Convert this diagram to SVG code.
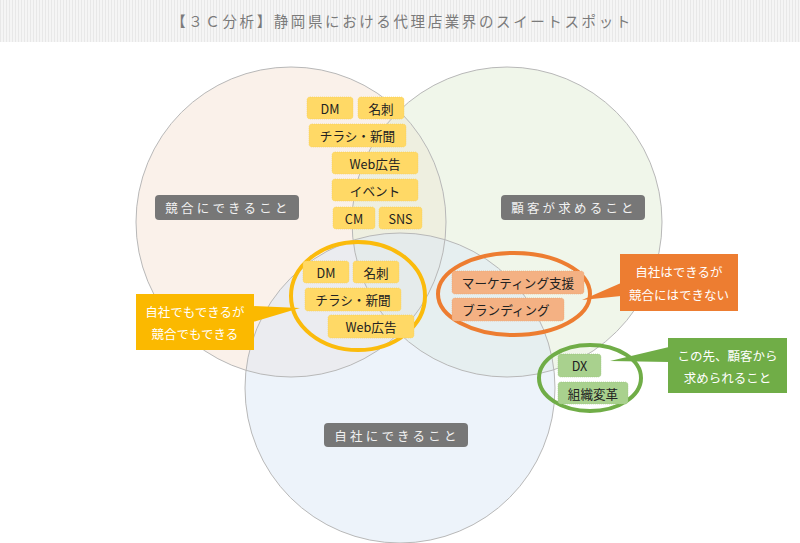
<svg xmlns="http://www.w3.org/2000/svg" width="800" height="543" viewBox="0 0 800 543">
<defs>
<pattern id="stripes" width="3" height="42" patternUnits="userSpaceOnUse">
<rect width="3" height="42" fill="#f5f5f5"/>
<rect width="1" height="42" fill="#e8e8e8"/>
</pattern>
<style>
text{font-family:"Noto Sans CJK JP","Noto Sans",sans-serif;}
.title{font-size:14.5px;fill:#7a7a7a;letter-spacing:2.6px;}
.circ{stroke:none;}
.edge{fill:none;stroke:#b8b8b8;stroke-width:1;}
.lbl rect{fill:#777777;}
.lbl text{font-size:12.5px;fill:#f2f2f2;letter-spacing:3.2px;text-anchor:middle;dominant-baseline:central;}
.y rect{fill:#ffd966;stroke:#f3cc55;stroke-width:0.6;stroke-dasharray:1 1;}
.o rect{fill:#f4b183;stroke:#eaa574;stroke-width:0.6;stroke-dasharray:1 1;}
.g rect{fill:#a9d18e;stroke:#9cc480;stroke-width:0.6;stroke-dasharray:1 1;}
.box text{font-size:12.6px;fill:#222;text-anchor:middle;dominant-baseline:central;}
.call text{font-size:12.5px;fill:#ffffff;text-anchor:middle;dominant-baseline:central;}
</style>
</defs>
<rect width="800" height="543" fill="#ffffff"/>
<rect width="800" height="42" fill="url(#stripes)"/>
<text class="title" x="402" y="27" text-anchor="middle">【３Ｃ分析】静岡県における代理店業界のスイートスポット</text>

<g id="circles">
<circle class="circ" cx="291" cy="222" r="155" fill="#f6e4d6" fill-opacity="0.5"/>
<circle class="circ" cx="507" cy="222" r="155" fill="#e1eed6" fill-opacity="0.5"/>
<circle class="circ" cx="400" cy="388" r="155" fill="#dce7f5" fill-opacity="0.5"/>
<circle class="edge" cx="291" cy="222" r="155"/>
<circle class="edge" cx="507" cy="222" r="155"/>
<circle class="edge" cx="400" cy="388" r="155"/>
</g>

<g id="label-competitor" class="lbl"><rect x="155" y="195" width="144" height="25" rx="4"/><text x="228" y="207.5">競合にできること</text></g>
<g id="label-customer" class="lbl"><rect x="501" y="195" width="144" height="25" rx="4"/><text x="574" y="207.5">顧客が求めること</text></g>
<g id="label-company" class="lbl"><rect x="324" y="423" width="144" height="24" rx="4"/><text x="397" y="435">自社にできること</text></g>

<g id="top-cluster" class="box y">
<g id="t-dm"><rect x="307" y="97" width="46" height="22" rx="3"/><text x="330" y="108">DM</text></g>
<g id="t-meishi"><rect x="358" y="97" width="46" height="22" rx="3"/><text x="381" y="108">名刺</text></g>
<g id="t-chirashi"><rect x="309" y="124" width="97" height="23" rx="3"/><text x="357.5" y="135.5">チラシ・新聞</text></g>
<g id="t-web"><rect x="332" y="152" width="86" height="22" rx="3"/><text x="375" y="163">Web広告</text></g>
<g id="t-event"><rect x="332" y="179" width="86" height="22" rx="3"/><text x="375" y="190">イベント</text></g>
<g id="t-cm"><rect x="333" y="207" width="42" height="22" rx="3"/><text x="354" y="218">CM</text></g>
<g id="t-sns"><rect x="379" y="207" width="43" height="22" rx="3"/><text x="400.5" y="218">SNS</text></g>
</g>

<g id="connectors">
<polygon points="253,306 300,308 253,322" fill="#fbb900"/>
<polygon points="621,283 582,300 621,296" fill="#ed7d31"/>
<polygon points="669,347 610,361 669,362" fill="#70ad47"/>
<ellipse cx="358" cy="296" rx="67" ry="54" fill="none" stroke="#fbbb0c" stroke-width="4"/>
<ellipse cx="514" cy="294" rx="76" ry="41" fill="none" stroke="#ed7d31" stroke-width="4"/>
<ellipse cx="590" cy="378" rx="51" ry="33" fill="none" stroke="#70ad47" stroke-width="4"/>
</g>

<g id="mid-cluster" class="box y">
<g id="m-dm"><rect x="303" y="261" width="46" height="22" rx="3"/><text x="326" y="272">DM</text></g>
<g id="m-meishi"><rect x="353" y="261" width="46" height="22" rx="3"/><text x="376" y="272">名刺</text></g>
<g id="m-chirashi"><rect x="305" y="288" width="96" height="23" rx="3"/><text x="353" y="299.5">チラシ・新聞</text></g>
<g id="m-web"><rect x="328" y="315" width="86" height="23" rx="3"/><text x="371" y="326.5">Web広告</text></g>
</g>

<g id="orange-cluster" class="box o">
<g id="o-marketing"><rect x="452" y="271" width="132" height="23" rx="3"/><text x="518" y="282.5">マーケティング支援</text></g>
<g id="o-branding"><rect x="452" y="298" width="112" height="23" rx="3"/><text x="506" y="309.5">ブランディング</text></g>
</g>

<g id="green-cluster" class="box g">
<g id="g-dx"><rect x="558" y="354" width="43" height="23" rx="3"/><text x="579.5" y="365.5">DX</text></g>
<g id="g-org"><rect x="558" y="382" width="70" height="22" rx="3"/><text x="593" y="393">組織変革</text></g>
</g>

<g id="callout-yellow" class="call"><rect x="136" y="294" width="118" height="56" fill="#fbb900"/><text x="195" y="311">自社でもできるが</text><text x="195" y="333">競合でもできる</text></g>
<g id="callout-orange" class="call"><rect x="620" y="254" width="118" height="57" fill="#ed7d31"/><text x="679" y="271">自社はできるが</text><text x="679" y="294">競合にはできない</text></g>
<g id="callout-green" class="call"><rect x="668" y="338" width="119" height="55" fill="#70ad47"/><text x="727.5" y="355">この先、顧客から</text><text x="727.5" y="377">求められること</text></g>
</svg>
